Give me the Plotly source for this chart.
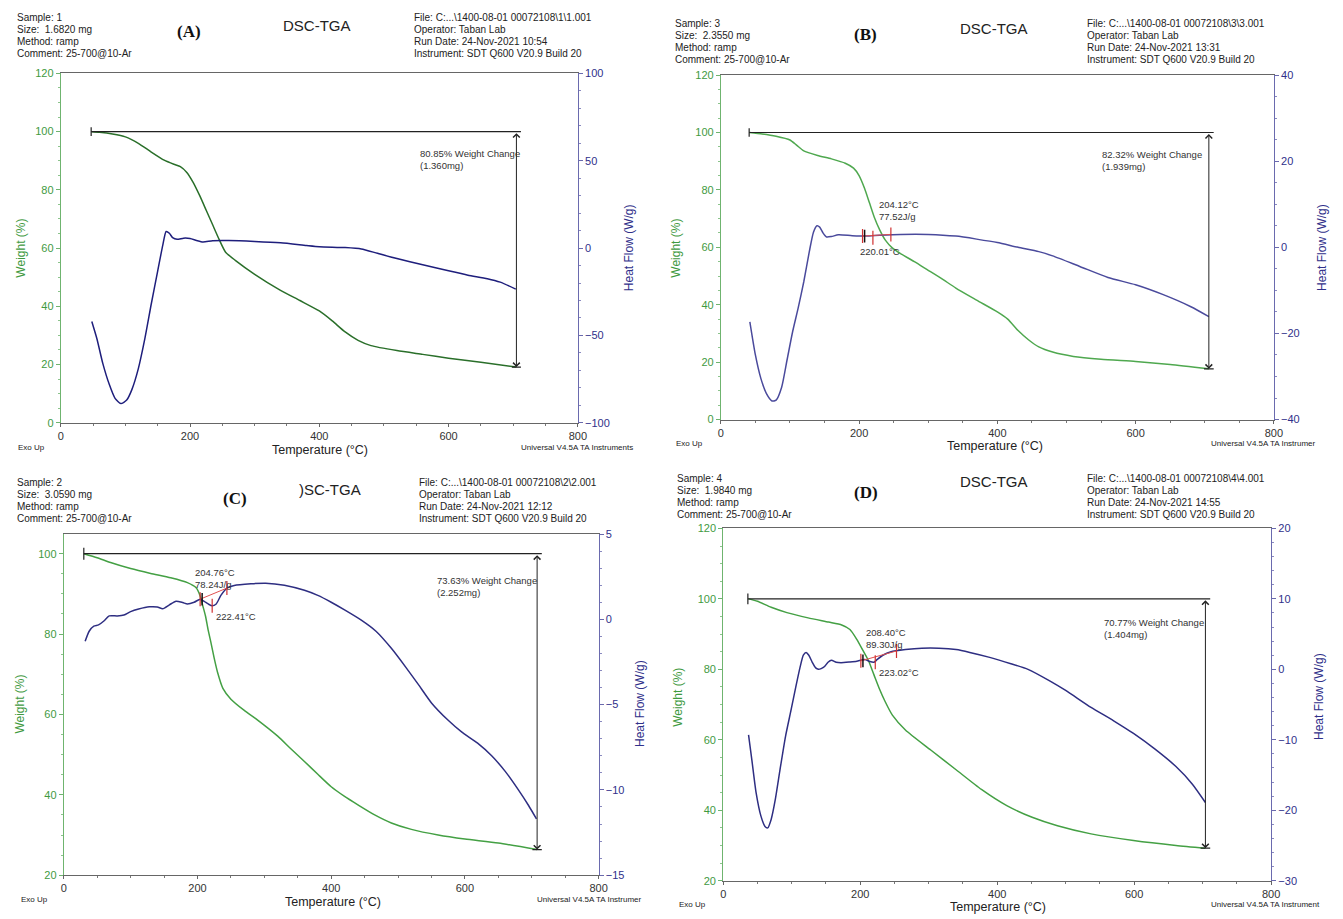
import plotly.graph_objects as go

W, H = 1343, 919

# ---------------- DATA ----------------
# Panel A (Sample 1)
a_w_T = [48, 60, 80, 100, 120, 140, 160, 175, 185, 195, 205, 215, 225, 235, 245, 255, 270, 300, 340, 370, 400, 420, 440, 460, 480, 520, 560, 600, 650, 705]
a_w = [100, 99.8, 99.2, 98.2, 96, 93, 90.2, 88.8, 88, 86, 82.5, 78, 73, 68, 63, 58.6, 55.8, 51, 45.5, 42, 38.4, 35, 31.2, 28.3, 26.5, 24.8, 23.5, 22.2, 20.8, 19.15]
a_h_T = [48, 56, 65, 75, 84, 93, 102, 110, 120, 130, 140, 150, 158, 163, 168, 173, 180, 190, 200, 210, 220, 235, 260, 300, 340, 380, 400, 440, 465, 490, 520, 560, 600, 630, 660, 680, 704]
a_h = [-42, -52, -66, -78, -86, -89, -87, -81, -69, -52, -32, -13, 2, 9.5, 8.5, 6, 5, 5.7, 5.5, 4.4, 3.5, 4.2, 4.3, 3.8, 3, 1.5, 0.8, 0.3, -0.5, -3, -6, -9.5, -13, -15.5, -17.5, -19.5, -23.5]

# Panel B (Sample 3)
b_w_T = [41, 60, 80, 100, 110, 120, 140, 160, 180, 192, 200, 208, 215, 222, 230, 238, 248, 260, 280, 300, 320, 340, 370, 400, 415, 430, 445, 460, 480, 510, 550, 600, 650, 706]
b_w = [100, 99.5, 98.7, 97.4, 95.5, 93.6, 92, 90.8, 89.3, 87.6, 85, 80.5, 75.5, 70.5, 66, 62.5, 59.8, 57.8, 55, 52, 49, 45.8, 41.6, 37.5, 35, 31, 27.8, 25.3, 23.5, 22, 21, 20.2, 19.2, 17.68]
b_h_T = [42, 50, 58, 66, 74, 80, 88, 96, 104, 112, 120, 128, 134, 139, 143, 148, 153, 160, 170, 190, 210, 230, 260, 300, 340, 370, 400, 430, 460, 480, 520, 560, 600, 640, 680, 706]
b_h = [-17.3, -25, -30.5, -34, -35.7, -35.5, -32.5, -26, -19.5, -14, -8, -1, 3.5, 5, 4.7, 3.3, 2.4, 2.5, 2.9, 2.7, 2.6, 2.8, 3.0, 3.0, 2.6, 1.9, 1.1, 0.0, -1.0, -2.0, -4.5, -7, -8.7, -11, -13.8, -16.1]

# Panel C (Sample 2)
c_w_T = [30, 50, 70, 100, 130, 160, 185, 198, 204, 208, 212, 216, 220, 225, 230, 238, 250, 270, 290, 320, 340, 360, 380, 400, 420, 440, 465, 490, 520, 560, 600, 650, 708]
c_w = [100, 99, 97.8, 96.3, 95.1, 94, 92.8, 91.5, 89.5, 87, 84.5, 81, 78, 74, 70.5, 66.5, 63.8, 61, 58.6, 54.6, 51.4, 48.3, 45.1, 42, 39.6, 37.5, 35, 33, 31.4, 30, 29, 28, 26.37]
c_h_T = [32, 38, 45, 52, 60, 68, 80, 90, 100, 112, 128, 140, 148, 158, 168, 178, 185, 195, 204, 210, 216, 222, 228, 235, 244, 255, 280, 302, 330, 360, 380, 400, 420, 445, 467, 490, 512, 530, 550, 575, 595, 619, 640, 660, 680, 695, 707]
c_h = [-1.29, -0.7, -0.4, -0.33, -0.1, 0.2, 0.2, 0.25, 0.45, 0.6, 0.73, 0.72, 0.62, 0.85, 1.06, 0.98, 0.9, 1.0, 1.18, 1.05, 0.9, 0.79, 0.9, 1.4, 1.83, 1.98, 2.08, 2.12, 2.0, 1.7, 1.4, 1.0, 0.55, -0.05, -0.7, -1.7, -2.83, -3.8, -4.9, -5.92, -6.6, -7.26, -8.0, -8.9, -10.0, -10.9, -11.7]

# Panel D (Sample 4)
d_w_T = [37, 50, 70, 93, 124, 154, 173, 185, 195, 205, 212, 220, 228, 236, 247, 266, 303, 340, 377, 414, 451, 488, 537, 599, 661, 704]
d_w = [100, 99.3, 97.6, 96.1, 94.6, 93.4, 92.6, 91.3, 88.5, 85, 82.5, 78.5, 74.5, 71, 67, 62.8, 57.1, 51.5, 45.9, 41.3, 38, 35.6, 33.3, 31.4, 30, 29.23]
d_h_T = [37, 42, 48, 55, 61, 65, 70, 76, 83, 91, 99, 106, 112, 117, 121, 125, 130, 135, 139, 143, 148, 153, 158, 165, 172, 185, 195, 207, 214, 220, 225, 233, 245, 266, 290, 315, 340, 360, 389, 420, 445, 476, 500, 537, 570, 599, 630, 661, 685, 704]
d_h = [-9.3, -13, -17.5, -20.8, -22.3, -22.5, -21.3, -18.5, -14.2, -9.5, -5.8, -2.5, 0.2, 2.0, 2.4, 2.0, 1.0, 0.2, 0.0, 0.1, 0.4, 1.0, 1.3, 1.0, 0.95, 1.05, 1.15, 1.4, 1.1, 1.0, 1.4, 2.0, 2.5, 2.8, 3.0, 3.0, 2.8, 2.4, 1.7, 0.8, 0.0, -1.6, -3.0, -5.4, -7.3, -9.1, -11.3, -13.8, -16.3, -18.9]

# Weight-change brackets: start T, end T, final weight
wc_start = {"A": 47, "B": 41, "C": 30, "D": 36}
wc_end = {"A": 705, "B": 706, "C": 708, "D": 704}
wc_final = {"A": 19.15, "B": 17.68, "C": 26.37, "D": 29.23}
wc_text = {"A": "80.85% Weight Change<br>(1.360mg)",
           "B": "82.32% Weight Change<br>(1.939mg)",
           "C": "73.63% Weight Change<br>(2.252mg)",
           "D": "70.77% Weight Change<br>(1.404mg)"}
wc_text_pos = {"A": (552, 95.0), "B": (549, 95.1), "C": (556, 95.3), "D": (553, 95.5)}

# Peak integration (T values and heat flow at them)
peak_T = {"B": [205, 220, 246], "C": [204, 222, 244], "D": [201, 222, 253]}
peak_h = {"B": [2.6, 2.2, 3.0], "C": [1.18, 0.79, 1.83], "D": [1.2, 1.0, 2.6]}
peak_label1 = {"B": "204.12°C<br>77.52J/g", "C": "204.76°C<br>78.24J/g", "D": "208.40°C<br>89.30J/g"}
peak_label1_pos = {"B": (226, 77.7), "C": (193, 97.1), "D": (205, 92.6)}
peak_label2 = {"B": "220.01°C", "C": "222.41°C", "D": "223.02°C"}
peak_label2_pos = {"B": (198, 61.1), "C": (224, 86.3), "D": (225, 81.3)}

headers = {
    "A": ["Sample: 1", "Size:  1.6820 mg", "Method: ramp", "Comment: 25-700@10-Ar"],
    "B": ["Sample: 3", "Size:  2.3550 mg", "Method: ramp", "Comment: 25-700@10-Ar"],
    "C": ["Sample: 2", "Size:  3.0590 mg", "Method: ramp", "Comment: 25-700@10-Ar"],
    "D": ["Sample: 4", "Size:  1.9840 mg", "Method: ramp", "Comment: 25-700@10-Ar"],
}
files = {
    "A": ["File: C:...\\1400-08-01 00072108\\1\\1.001", "Operator: Taban Lab", "Run Date: 24-Nov-2021 10:54", "Instrument: SDT Q600 V20.9 Build 20"],
    "B": ["File: C:...\\1400-08-01 00072108\\3\\3.001", "Operator: Taban Lab", "Run Date: 24-Nov-2021 13:31", "Instrument: SDT Q600 V20.9 Build 20"],
    "C": ["File: C:...\\1400-08-01 00072108\\2\\2.001", "Operator: Taban Lab", "Run Date: 24-Nov-2021 12:12", "Instrument: SDT Q600 V20.9 Build 20"],
    "D": ["File: C:...\\1400-08-01 00072108\\4\\4.001", "Operator: Taban Lab", "Run Date: 24-Nov-2021 14:55", "Instrument: SDT Q600 V20.9 Build 20"],
}
titles = {"A": "DSC-TGA", "B": "DSC-TGA", "C": ")SC-TGA", "D": "DSC-TGA"}
footer_right = {"A": "Universal V4.5A TA Instruments", "B": "Universal V4.5A TA Instrumer",
                "C": "Universal V4.5A TA Instrumer", "D": "Universal V4.5A TA Instrument"}

# ---------------- LAYOUT GEOMETRY (pixels) ----------------
def px(x):
    return x / W

def py(y):
    return 1 - y / H

panels = {
    "A": dict(xl=58.3, xr=580, yt=68.3, yb=422.3, lr=[0, 120], rr=[-100, 100], rd=50, rm=10, ld=20,
              wcol="#2a6f2a", hcol="#1e1e7c"),
    "B": dict(xl=724.3, xr=1282.3, yt=70, yb=419, lr=[0, 120], rr=[-40, 40], rd=20, rm=5, ld=20,
              wcol="#4fa84f", hcol="#4a4a9c"),
    "C": dict(xl=61.3, xr=601, yt=535, yb=880.7, lr=[20, 104.9], rr=[-15, 5], rd=5, rm=1, ld=20,
              wcol="#44a044", hcol="#2e2e82"),
    "D": dict(xl=726.7, xr=1279.6, yt=529.3, yb=886.3, lr=[20, 120], rr=[-30, 20], rd=10, rm=2, ld=20,
              wcol="#44a044", hcol="#2e2e82"),
}
data = {
    "A": (a_w_T, a_w, a_h_T, a_h),
    "B": (b_w_T, b_w, b_h_T, b_h),
    "C": (c_w_T, c_w, c_h_T, c_h),
    "D": (d_w_T, d_w, d_h_T, d_h),
}

FONT = "Liberation Sans, Arial, sans-serif"
GREEN_TXT = "#3f9a3f"
NAVY_TXT = "#30308a"

fig = go.Figure()
layout = dict(width=W, height=H, margin=dict(l=0, r=0, t=0, b=0),
              paper_bgcolor="white", plot_bgcolor="white", showlegend=False,
              font=dict(family=FONT, size=11, color="#222"))
annotations = []
shapes = []

for i, key in enumerate(["A", "B", "C", "D"]):
    p = panels[key]
    xn = "" if i == 0 else str(i + 1)
    yl = "" if i == 0 else str(2 * i + 1)
    yr = str(2 * i + 2)
    xname, ylname, yrname = "x" + xn, "y" + yl, "y" + yr

    layout["xaxis" + xn] = dict(
        domain=[px(p["xl"]), px(p["xr"])], range=[0, 800], anchor=ylname,
        dtick=200, tick0=0, showgrid=False, zeroline=False,
        showline=True, linecolor="#666", linewidth=1, mirror=True,
        ticks="outside", ticklen=3, tickcolor="#666",
        minor=dict(dtick=50, ticks="outside", ticklen=2, tickcolor="#777"),
        tickfont=dict(size=11, color="#333", family=FONT))
    layout["yaxis" + yl] = dict(
        domain=[py(p["yb"]), py(p["yt"])], range=p["lr"], anchor=xname,
        dtick=p["ld"], tick0=0, showgrid=False, zeroline=False,
        showline=True, linecolor="#6fb46f", linewidth=1,
        ticks="outside", ticklen=4, tickcolor="#6fb46f",
        minor=dict(dtick=5, ticks="outside", ticklen=2, tickcolor="#8cc48c"),
        tickfont=dict(size=11, color=GREEN_TXT, family=FONT))
    layout["yaxis" + yr] = dict(
        overlaying=ylname, side="right", range=p["rr"], anchor=xname,
        dtick=p["rd"], tick0=0, showgrid=False, zeroline=False,
        showline=True, linecolor="#6a6aae", linewidth=1,
        ticks="outside", ticklen=4, tickcolor="#6a6aae",
        minor=dict(dtick=p["rm"], ticks="outside", ticklen=2, tickcolor="#8a8ac0"),
        tickfont=dict(size=11, color=NAVY_TXT, family=FONT))

    wT, wv, hT, hv = data[key]
    fig.add_trace(go.Scatter(x=wT, y=wv, mode="lines", xaxis=xname, yaxis=ylname,
                             line=dict(color=p["wcol"], width=1.5, shape="spline", smoothing=0.6),
                             hoverinfo="skip"))
    fig.add_trace(go.Scatter(x=hT, y=hv, mode="lines", xaxis=xname, yaxis=yrname,
                             line=dict(color=p["hcol"], width=1.5, shape="spline", smoothing=0.6),
                             hoverinfo="skip"))

    # weight change bracket
    s, e, f = wc_start[key], wc_end[key], wc_final[key]
    shapes.append(dict(type="line", xref=xname, yref=ylname, x0=s, x1=e + 7, y0=100, y1=100,
                       line=dict(color="#222", width=1.2)))
    shapes.append(dict(type="line", xref=xname, yref=ylname, x0=s, x1=s, y0=98.5, y1=101.5,
                       line=dict(color="#222", width=1.2)))
    shapes.append(dict(type="line", xref=xname, yref=ylname, x0=e - 7, x1=e + 7, y0=f, y1=f,
                       line=dict(color="#222", width=1.2)))
    annotations.append(dict(x=e, y=f, ax=e, ay=100, xref=xname, yref=ylname, axref=xname, ayref=ylname,
                            text="", showarrow=True, arrowhead=4, arrowside="end+start",
                            arrowsize=1.3, arrowwidth=1, arrowcolor="#222"))
    tx, ty = wc_text_pos[key]
    annotations.append(dict(x=tx, y=ty, xref=xname, yref=ylname, text=wc_text[key], showarrow=False,
                            xanchor="left", yanchor="top", align="left",
                            font=dict(size=9.5, color="#333", family=FONT)))

    # peak integration
    if key in peak_T:
        pt, ph = peak_T[key], peak_h[key]
        fig.add_trace(go.Scatter(x=[pt[0], pt[2]], y=[ph[0], ph[2]], mode="lines", xaxis=xname, yaxis=yrname,
                                 line=dict(color="#e05050", width=1), hoverinfo="skip"))
        fig.add_trace(go.Scatter(x=pt, y=ph, mode="markers", xaxis=xname, yaxis=yrname,
                                 marker=dict(symbol="line-ns-open", size=10, color="#d03030",
                                             line=dict(width=1.2, color="#d03030")), hoverinfo="skip"))
        fig.add_trace(go.Scatter(x=[pt[0] + 3], y=[ph[0]], mode="markers", xaxis=xname, yaxis=yrname,
                                 marker=dict(symbol="line-ns-open", size=9, color="#111",
                                             line=dict(width=1.5, color="#111")), hoverinfo="skip"))
        lx, ly = peak_label1_pos[key]
        annotations.append(dict(x=lx, y=ly, xref=xname, yref=ylname, text=peak_label1[key], showarrow=False,
                                xanchor="left", yanchor="top", align="left",
                                font=dict(size=9.5, color="#333", family=FONT)))
        lx, ly = peak_label2_pos[key]
        annotations.append(dict(x=lx, y=ly, xref=xname, yref=ylname, text=peak_label2[key], showarrow=False,
                                xanchor="left", yanchor="top", align="left",
                                font=dict(size=9.5, color="#333", family=FONT)))

# ---------------- header / footer texts (pixel positions) ----------------
hdr_pos = {
    "A": dict(sx=12, sy=12, lab=(188, 26), tit=(317, 20), fx=413, fy=12,
              wt=(18, 245), hf=(631, 245), tmp=(320, 450), exo=(29, 447), uni=(638, 447)),
    "B": dict(sx=676, sy=18, lab=(870, 29), tit=(1000, 23), fx=1092, fy=18,
              wt=(679, 245), hf=(1331, 245), tmp=(1001, 446), exo=(693, 443), uni=(1217, 443)),
    "C": dict(sx=12, sy=483, lab=(234, 499), tit=(330, 490), fx=418, fy=483,
              wt=(17, 707), hf=(643, 707), tmp=(333, 908), exo=(32, 905), uni=(537, 905)),
    "D": dict(sx=678, sy=479, lab=(871, 493), tit=(1000, 482), fx=1092, fy=479,
              wt=(681, 700), hf=(1328, 700), tmp=(1004, 913), exo=(696, 910), uni=(1217, 910)),
}
LINE = 12
for key, h in hdr_pos.items():
    for j, t in enumerate(headers[key]):
        annotations.append(dict(x=px(h["sx"]), y=py(h["sy"] + j * LINE), xref="paper", yref="paper",
                                text=t, showarrow=False, xanchor="left", yanchor="middle",
                                font=dict(size=10, color="#222", family=FONT)))
    for j, t in enumerate(files[key]):
        annotations.append(dict(x=px(h["fx"]), y=py(h["fy"] + j * LINE), xref="paper", yref="paper",
                                text=t, showarrow=False, xanchor="left", yanchor="middle",
                                font=dict(size=10, color="#222", family=FONT)))
    annotations.append(dict(x=px(h["lab"][0]), y=py(h["lab"][1]), xref="paper", yref="paper",
                            text="<b>(%s)</b>" % key, showarrow=False, xanchor="center", yanchor="middle",
                            font=dict(size=17, color="#111", family="Liberation Serif, DejaVu Serif, serif")))
    annotations.append(dict(x=px(h["tit"][0]), y=py(h["tit"][1]), xref="paper", yref="paper",
                            text=titles[key], showarrow=False, xanchor="center", yanchor="middle",
                            font=dict(size=15, color="#222", family=FONT)))
    annotations.append(dict(x=px(h["wt"][0]), y=py(h["wt"][1]), xref="paper", yref="paper",
                            text="Weight (%)", textangle=-90, showarrow=False, xanchor="center", yanchor="middle",
                            font=dict(size=12, color=GREEN_TXT, family=FONT)))
    annotations.append(dict(x=px(h["hf"][0]), y=py(h["hf"][1]), xref="paper", yref="paper",
                            text="Heat Flow (W/g)", textangle=-90, showarrow=False, xanchor="center", yanchor="middle",
                            font=dict(size=12, color=NAVY_TXT, family=FONT)))
    annotations.append(dict(x=px(h["tmp"][0]), y=py(h["tmp"][1]), xref="paper", yref="paper",
                            text="Temperature (°C)", showarrow=False, xanchor="center", yanchor="middle",
                            font=dict(size=12.5, color="#222", family=FONT)))
    annotations.append(dict(x=px(h["exo"][0]), y=py(h["exo"][1]), xref="paper", yref="paper",
                            text="Exo Up", showarrow=False, xanchor="center", yanchor="middle",
                            font=dict(size=8, color="#222", family=FONT)))
    annotations.append(dict(x=px(h["uni"][0]), y=py(h["uni"][1]), xref="paper", yref="paper",
                            text=footer_right[key], showarrow=False,
                            xanchor="right" if key == "A" else "left", yanchor="middle",
                            font=dict(size=8, color="#222", family=FONT)))

layout["annotations"] = annotations
layout["shapes"] = shapes
fig.update_layout(**layout)

fig.write_html("out.html", config={"displayModeBar": False},
               post_script="document.body.style.margin='0';document.body.style.overflow='hidden';")
